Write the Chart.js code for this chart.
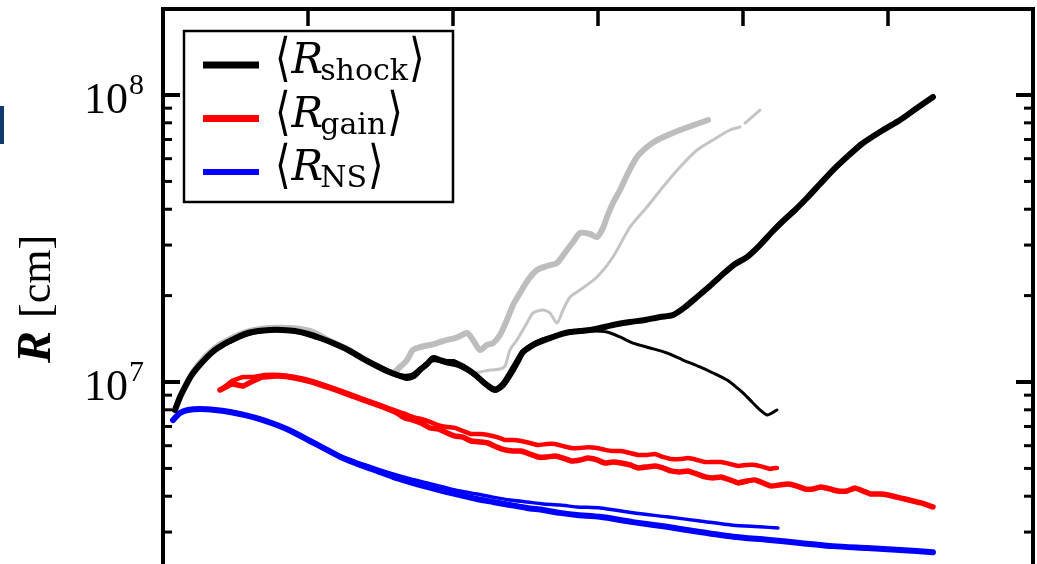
<!DOCTYPE html>
<html>
<head>
<meta charset="utf-8">
<script src="https://cdn.jsdelivr.net/npm/chart.js@4.4.0/dist/chart.umd.min.js"></script>
<style>
  html, body { margin: 0; padding: 0; background: #fff; overflow: hidden; }
  #wrap { position: relative; width: 1037px; height: 564px; }
  #marca { position: absolute; left: 0; top: 106px; width: 4px; height: 38px; background: #0e3a6c; }
</style>
</head>
<body>
<div id="wrap">
  <canvas id="grafico" width="1037" height="564"></canvas>
  <div id="marca"></div>
</div>
<script>
// tempo apos o bounce (ms) e raios medios (em unidades de 1e7 cm)
const tShockA = [8.3, 11.7, 15.2, 19.3, 24.1, 29.7, 35.9, 42.1, 47.6, 53.1, 58.6, 65.5, 73.8, 82.1, 91.0, 100.0, 108.3, 117.2, 127.6, 137.2, 146.2, 154.5, 161.4, 168.3, 173.1, 177.2, 182.1, 186.2, 191.0, 195.9, 200.0, 204.8, 209.7, 213.8, 218.6, 223.4, 229.0, 234.5, 237.9, 241.4, 244.8, 248.3, 253.1, 257.9, 263.4, 269.0, 275.2, 280.7, 287.6, 294.5, 301.4, 310.3, 322.1, 332.4, 342.8, 351.7, 360.0, 368.3, 377.2, 385.5, 394.5, 402.8, 411.7, 420.0, 427.6, 435.9, 444.1, 453.1, 462.1, 472.4, 482.8, 496.6, 508.3, 520.0, 531.0];
const rShockA = [0.799, 0.887, 0.961, 1.049, 1.128, 1.212, 1.293, 1.356, 1.401, 1.446, 1.482, 1.506, 1.518, 1.518, 1.506, 1.470, 1.423, 1.367, 1.293, 1.212, 1.146, 1.092, 1.058, 1.033, 1.049, 1.101, 1.155, 1.212, 1.193, 1.174, 1.174, 1.146, 1.110, 1.075, 1.024, 0.976, 0.938, 0.976, 1.033, 1.101, 1.184, 1.272, 1.324, 1.367, 1.401, 1.435, 1.470, 1.493, 1.506, 1.518, 1.542, 1.580, 1.618, 1.645, 1.685, 1.712, 1.825, 1.978, 2.160, 2.360, 2.577, 2.726, 3.001, 3.332, 3.639, 3.974, 4.376, 4.897, 5.479, 6.131, 6.804, 7.552, 8.183, 9.009, 9.84];

const tShockB = [8.3, 12.4, 16.6, 21.4, 26.9, 33.1, 40.0, 46.9, 54.5, 63.4, 73.8, 84.1, 94.5, 104.8, 115.2, 125.5, 135.9, 146.2, 156.6, 165.5, 171.7, 177.2, 182.8, 189.0, 195.9, 202.8, 209.7, 216.6, 223.4, 229.0, 233.8, 237.9, 242.8, 247.6, 253.1, 260.0, 268.3, 277.2, 287.6, 296.6, 306.2, 315.2, 324.1, 335.9, 347.6, 358.6, 370.3, 379.3, 389.0, 394.5, 400.0, 406.2, 411.7, 416.6, 420.0, 423.4];
const rShockB = [0.799, 0.908, 0.992, 1.084, 1.164, 1.252, 1.324, 1.378, 1.435, 1.482, 1.506, 1.506, 1.482, 1.435, 1.378, 1.303, 1.222, 1.155, 1.092, 1.058, 1.066, 1.119, 1.174, 1.184, 1.155, 1.137, 1.092, 1.033, 0.984, 0.953, 0.992, 1.066, 1.174, 1.282, 1.346, 1.401, 1.446, 1.482, 1.493, 1.506, 1.493, 1.435, 1.367, 1.314, 1.262, 1.193, 1.128, 1.075, 1.016, 0.968, 0.916, 0.852, 0.799, 0.767, 0.780, 0.799];

// modelos que explodem (cinza)
const tShockC = [8.3, 15.2, 24.1, 35.9, 47.6, 60.0, 73.8, 87.6, 101.4, 115.2, 127.6, 139.3, 149.7, 158.6, 163.4, 168.3, 172.4, 177.2, 184.1, 189.0, 195.9, 201.4, 204.8, 209.7, 213.8, 218.6, 223.4, 227.6, 232.4, 237.2, 241.4, 246.2, 251.7, 257.9, 264.8, 271.7, 278.6, 282.8, 287.6, 294.5, 299.3, 303.4, 306.2, 310.3, 315.2, 320.7, 326.9, 333.8, 340.7, 348.3, 356.6, 366.2, 375.9];
const rShockC = [0.799, 0.968, 1.146, 1.314, 1.423, 1.506, 1.542, 1.542, 1.506, 1.39, 1.30, 1.20, 1.12, 1.08, 1.128, 1.193, 1.293, 1.324, 1.346, 1.367, 1.401, 1.423, 1.446, 1.482, 1.401, 1.293, 1.346, 1.367, 1.458, 1.645, 1.855, 2.042, 2.267, 2.456, 2.536, 2.598, 2.884, 3.075, 3.305, 3.279, 3.200, 3.440, 3.758, 4.204, 4.667, 5.349, 6.082, 6.589, 6.969, 7.256, 7.552, 7.861, 8.183];

const tShockD = [204.8, 209.7, 213.8, 218.6, 225.5, 232.4, 235.9, 239.3, 244.1, 251.0, 255.2, 262.1, 266.9, 271.7, 275.9, 280.7, 287.6, 299.3, 310.3, 322.1, 333.8, 344.8, 356.6, 368.3, 379.3, 391.0, 397.9, 399.5, 401.4, 411.7];
const rShockD = [1.146, 1.110, 1.075, 1.084, 1.101, 1.110, 1.137, 1.293, 1.401, 1.605, 1.740, 1.782, 1.740, 1.605, 1.782, 1.978, 2.092, 2.322, 2.726, 3.468, 4.071, 4.781, 5.612, 6.433, 6.969, 7.552, 7.737, null, 7.987, 8.866];

const tGainA = [39.3, 47.6, 55.2, 62.1, 68.3, 79.3, 91.0, 102.8, 115.2, 126.9, 137.9, 149.7, 161.4, 166.9, 172.4, 177.9, 184.1, 189.7, 195.9, 201.4, 206.9, 212.4, 218.6, 224.1, 230.3, 235.9, 241.4, 246.9, 253.1, 258.6, 264.8, 270.3, 275.9, 281.4, 287.6, 293.1, 299.3, 304.8, 310.3, 315.9, 322.1, 327.6, 333.8, 339.3, 344.8, 350.3, 356.6, 362.1, 368.3, 373.8, 379.3, 384.8, 391.0, 396.6, 402.8, 408.3, 413.8, 419.3, 425.5, 431.0, 437.2, 442.8, 448.3, 453.8, 460.0, 465.5, 471.7, 477.2, 482.8, 488.3, 494.5, 500.0, 506.2, 511.7, 517.2, 522.8, 531.0];
const rGainA = [0.938, 0.984, 0.968, 1.008, 1.041, 1.049, 1.033, 1.000, 0.953, 0.908, 0.866, 0.825, 0.780, 0.749, 0.737, 0.720, 0.692, 0.686, 0.664, 0.648, 0.643, 0.623, 0.618, 0.613, 0.593, 0.580, 0.575, 0.575, 0.561, 0.548, 0.548, 0.552, 0.543, 0.531, 0.535, 0.543, 0.535, 0.522, 0.526, 0.522, 0.514, 0.502, 0.506, 0.510, 0.502, 0.490, 0.486, 0.490, 0.478, 0.467, 0.463, 0.467, 0.456, 0.445, 0.452, 0.456, 0.445, 0.434, 0.438, 0.441, 0.434, 0.424, 0.424, 0.431, 0.424, 0.417, 0.417, 0.427, 0.417, 0.407, 0.407, 0.404, 0.397, 0.391, 0.385, 0.379, 0.367];

const tGainB = [40.7, 47.6, 55.2, 62.1, 70.3, 80.7, 91.0, 102.8, 115.2, 126.9, 137.9, 149.7, 161.4, 166.9, 172.4, 177.9, 184.1, 189.7, 195.9, 201.4, 206.9, 212.4, 218.6, 224.1, 230.3, 235.9, 241.4, 246.9, 253.1, 258.6, 264.8, 270.3, 275.9, 281.4, 287.6, 293.1, 299.3, 304.8, 310.3, 315.9, 322.1, 327.6, 333.8, 339.3, 344.8, 350.3, 356.6, 362.1, 368.3, 373.8, 379.3, 384.8, 391.0, 396.6, 402.8, 408.3, 413.8, 418.6, 423.4];
const rGainB = [0.945, 1.008, 1.041, 1.041, 1.058, 1.058, 1.041, 1.008, 0.961, 0.916, 0.873, 0.832, 0.792, 0.774, 0.755, 0.743, 0.726, 0.708, 0.697, 0.692, 0.675, 0.659, 0.659, 0.654, 0.643, 0.628, 0.628, 0.623, 0.613, 0.603, 0.608, 0.608, 0.598, 0.589, 0.589, 0.593, 0.589, 0.580, 0.575, 0.575, 0.566, 0.557, 0.557, 0.561, 0.548, 0.539, 0.539, 0.543, 0.535, 0.526, 0.526, 0.526, 0.518, 0.510, 0.514, 0.514, 0.506, 0.498, 0.502];

const tNSA = [6.9, 11.7, 17.2, 25.5, 35.9, 46.2, 56.6, 66.9, 78.6, 89.7, 101.4, 113.1, 124.1, 135.9, 147.6, 158.6, 170.3, 182.1, 193.1, 204.8, 216.6, 227.6, 239.3, 251.0, 262.1, 273.8, 285.5, 301.4, 324.1, 347.6, 370.3, 393.1, 416.6, 439.3, 462.1, 485.5, 508.3, 531.0];
const rNSA = [0.737, 0.780, 0.799, 0.805, 0.799, 0.786, 0.767, 0.743, 0.708, 0.670, 0.623, 0.580, 0.543, 0.514, 0.490, 0.467, 0.448, 0.431, 0.417, 0.404, 0.391, 0.382, 0.373, 0.364, 0.358, 0.350, 0.344, 0.339, 0.325, 0.313, 0.300, 0.289, 0.282, 0.275, 0.268, 0.264, 0.260, 0.255];

const tNSB = [6.9, 11.7, 17.2, 25.5, 35.9, 46.2, 56.6, 66.9, 78.6, 89.7, 101.4, 113.1, 124.1, 135.9, 147.6, 158.6, 170.3, 182.1, 193.1, 204.8, 216.6, 227.6, 239.3, 251.0, 262.1, 273.8, 285.5, 301.4, 324.1, 347.6, 370.3, 393.1, 411.7, 424.1];
const rNSB = [0.737, 0.780, 0.799, 0.805, 0.799, 0.786, 0.767, 0.743, 0.708, 0.670, 0.628, 0.584, 0.548, 0.522, 0.498, 0.478, 0.460, 0.445, 0.431, 0.417, 0.407, 0.397, 0.388, 0.382, 0.376, 0.373, 0.367, 0.364, 0.350, 0.339, 0.328, 0.317, 0.313, 0.310];

// ticks dos eixos
const yMajor = [1e7, 1e8];
const yMinor = [3e6, 4e6, 5e6, 6e6, 7e6, 8e6, 9e6, 2e7, 3e7, 4e7, 5e7, 6e7, 7e7, 8e7, 9e7];
const xTicks = [100, 200, 300, 400, 500];

const legendSubs = ["shock", "gain", "NS"];
const legendSets = [0, 2, 4];

const serie = (t, r) => t.map((v, i) => ({ x: v, y: r[i] === null ? null : r[i] * 1e7 }));

const linha = (label, t, r, cor, largura, tensao) => ({
  label: label,
  data: serie(t, r),
  borderColor: cor,
  borderWidth: largura,
  pointRadius: 0,
  tension: tensao,
  borderJoinStyle: "round",
  borderCapStyle: "round",
  fill: false
});

const molduraPlugin = {
  id: "moldura",
  afterDatasetsDraw(chart) {
    const { ctx, chartArea: a, scales: { x, y } } = chart;
    const traco = (x1, y1, x2, y2, w) => {
      ctx.lineWidth = w;
      ctx.beginPath();
      ctx.moveTo(x1, y1);
      ctx.lineTo(x2, y2);
      ctx.stroke();
    };
    const colchete = (ch, px, py) => {
      ctx.save();
      ctx.translate(px, py);
      ctx.scale(1, 1.3);
      ctx.fillText(ch, 0, 0);
      ctx.restore();
    };
    ctx.save();
    ctx.strokeStyle = "#000";
    ctx.fillStyle = "#000";
    ctx.lineCap = "butt";

    ctx.lineWidth = 4;
    ctx.beginPath();
    ctx.moveTo(a.left, a.bottom + 5);
    ctx.lineTo(a.left, a.top);
    ctx.lineTo(a.right, a.top);
    ctx.lineTo(a.right, a.bottom + 5);
    ctx.stroke();

    yMajor.forEach(v => {
      const py = y.getPixelForValue(v);
      traco(a.left, py, a.left + 17, py, 4);
      traco(a.right, py, a.right - 17, py, 4);
    });
    yMinor.forEach(v => {
      const py = y.getPixelForValue(v);
      if (py > a.top + 3 && py < a.bottom) {
        traco(a.left, py, a.left + 9, py, 3);
        traco(a.right, py, a.right - 9, py, 3);
      }
    });
    xTicks.forEach(v => {
      const px = x.getPixelForValue(v);
      traco(px, a.top, px, a.top + 17, 3.5);
    });

    // rotulos 10^n
    ctx.textBaseline = "alphabetic";
    yMajor.forEach(v => {
      const py = y.getPixelForValue(v);
      ctx.font = '44px "Liberation Serif"';
      ctx.textAlign = "right";
      ctx.fillText("10", 128, py + 18);
      ctx.font = '30px "Liberation Serif"';
      ctx.textAlign = "left";
      ctx.fillText(String(Math.round(Math.log10(v))), 129, py - 1);
    });

    // titulo do eixo y
    ctx.save();
    ctx.translate(50, 363);
    ctx.rotate(-Math.PI / 2);
    ctx.textAlign = "left";
    ctx.font = 'italic bold 48px "Liberation Serif"';
    ctx.fillText("R", 0, 0);
    ctx.font = '44px "Liberation Serif"';
    ctx.fillText("[cm]", 45, 0);
    ctx.restore();

    // legenda
    ctx.fillStyle = "#fff";
    ctx.fillRect(184, 31, 269, 171);
    ctx.lineWidth = 2.5;
    ctx.strokeRect(184, 31, 269, 171);
    legendSets.forEach((idx, i) => {
      const ds = chart.data.datasets[idx];
      const yl = 65 + i * 53.5;
      const base = 73 + i * 53.5;
      ctx.strokeStyle = ds.borderColor;
      traco(203, yl, 259, yl, i === 2 ? 6 : 7);
      ctx.fillStyle = "#000";
      ctx.textAlign = "left";
      let px = 275;
      ctx.font = '40px "DejaVu Serif"';
      colchete("\u27E8", px, base + 2);
      px += ctx.measureText("\u27E8").width + 1;
      ctx.font = 'italic 42px "DejaVu Serif"';
      ctx.fillText("R", px, base);
      px += ctx.measureText("R").width - 3;
      ctx.font = '30px "DejaVu Serif"';
      ctx.fillText(legendSubs[i], px, base + 7);
      px += ctx.measureText(legendSubs[i]).width + 1;
      ctx.font = '40px "DejaVu Serif"';
      colchete("\u27E9", px, base + 2);
    });
    ctx.restore();
  }
};

new Chart(document.getElementById("grafico"), {
  type: "line",
  data: {
    datasets: [
      linha("R_shock A", tShockA, rShockA, "#000000", 6, 0.25),
      linha("R_shock B", tShockB, rShockB, "#000000", 3, 0.25),
      linha("R_gain A", tGainA, rGainA, "#ff0000", 5.5, 0.1),
      linha("R_gain B", tGainB, rGainB, "#ff0000", 4.5, 0.1),
      linha("R_NS A", tNSA, rNSA, "#0000ff", 6, 0.25),
      linha("R_NS B", tNSB, rNSB, "#0000ff", 3.5, 0.25),
      linha("R_shock C", tShockC, rShockC, "#bdbdbd", 6, 0.25),
      linha("R_shock D", tShockD, rShockD, "#c4c4c4", 3, 0.25)
    ]
  },
  options: {
    responsive: false,
    animation: false,
    devicePixelRatio: 1,
    layout: { padding: { left: 163, top: 9, right: 4, bottom: 0 } },
    plugins: { legend: { display: false }, tooltip: { enabled: false } },
    scales: {
      x: { type: "linear", min: 0, max: 600, display: false },
      y: { type: "logarithmic", min: 2.322e6, max: 1.994e8, display: false }
    }
  },
  plugins: [molduraPlugin]
});
</script>
</body>
</html>
